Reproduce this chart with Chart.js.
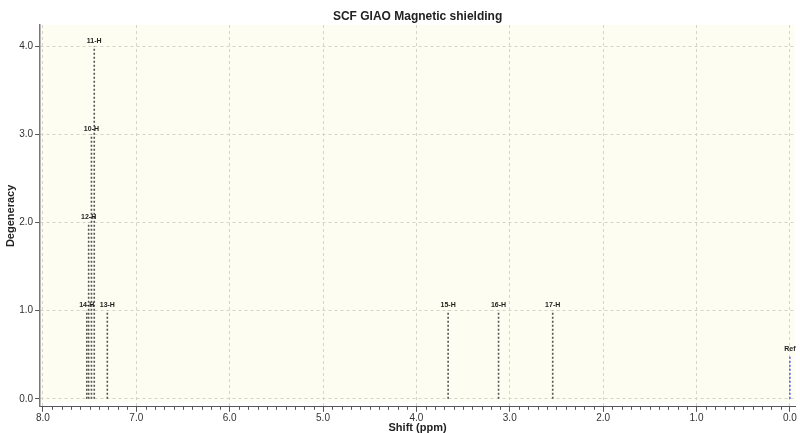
<!DOCTYPE html>
<html lang="en">
<head>
  <meta charset="UTF-8">
  <title>SCF GIAO Magnetic shielding</title>
  <script src="https://cdn.jsdelivr.net/npm/chart.js"></script>
  <style>
    body, html {
      margin: 0;
      padding: 0;
      background: #fff;
    }
    #wrap {
      width: 800px;
      height: 433px;
    }
  </style>
</head>
<body>
  <div id="wrap"><canvas id="grafico"></canvas></div>
  <script>
    // peaks (ppm) and their degeneracy
    const peakLabels = ["14-H", "12-H", "10-H", "11-H", "13-H", "15-H", "16-H", "17-H", "Ref"];
    const peakShifts = [7.53, 7.51, 7.48, 7.45, 7.31, 3.66, 3.12, 2.54, 0.0];
    const peakDegeneracy = [1, 2, 3, 4, 1, 1, 1, 1, 0.5];
    const xTicks = [0, 1, 2, 3, 4, 5, 6, 7, 8];
    const yTicks = [0, 1, 2, 3, 4];
    const chartTitle = "SCF GIAO Magnetic shielding";

    const font = "'Liberation Sans', Arial, sans-serif";

    const datasets = peakShifts.map((s, i) => ({
      label: peakLabels[i],
      data: [{ x: s, y: 0 }, { x: s, y: peakDegeneracy[i] }],
      borderColor: peakLabels[i] === "Ref" ? "#5a5af0" : "#555",
      borderWidth: 1.6,
      borderDash: [2, 2],
      pointRadius: 0,
      fill: false
    }));

    // pale plot background, stops a little above the x axis
    const fondo = {
      id: "fondo",
      beforeDraw(chart) {
        const { ctx, chartArea } = chart;
        const yb = chart.scales.y.getPixelForValue(-0.035);
        ctx.save();
        ctx.fillStyle = "#fdfdf1";
        ctx.fillRect(chartArea.left, chartArea.top, chartArea.right - chartArea.left, yb - chartArea.top);
        ctx.restore();
      }
    };

    // title over the plot area, peak labels, minor ticks on x axis
    const extras = {
      id: "extras",
      afterDraw(chart) {
        const { ctx, scales, chartArea } = chart;
        const x = scales.x, y = scales.y;
        ctx.save();
        ctx.font = "bold 12px " + font;
        ctx.fillStyle = "#222";
        ctx.textAlign = "center";
        ctx.textBaseline = "middle";
        ctx.fillText(chartTitle, (chartArea.left + chartArea.right) / 2, 17);

        ctx.font = "bold 7px " + font;
        ctx.textBaseline = "bottom";
        peakShifts.forEach((s, i) => {
          ctx.fillText(peakLabels[i], x.getPixelForValue(s), y.getPixelForValue(peakDegeneracy[i]) - 2);
        });
        ctx.strokeStyle = "#555";
        ctx.lineWidth = 1;
        const base = chartArea.bottom;
        for (let k = 1; k < 80; k++) {
          if (k % 10 === 0) continue;
          const px = Math.round(x.getPixelForValue(k / 10)) + 0.5;
          ctx.beginPath();
          ctx.moveTo(px, base);
          ctx.lineTo(px, base + 3);
          ctx.stroke();
        }
        ctx.restore();
      }
    };

    new Chart(document.getElementById("grafico"), {
      type: "line",
      data: { datasets },
      plugins: [fondo, extras],
      options: {
        responsive: true,
        maintainAspectRatio: false,
        animation: false,
        layout: { padding: { left: 4, right: 5, top: 25, bottom: 0 } },
        plugins: {
          legend: { display: false },
          tooltip: { enabled: false },
          title: { display: false }
        },
        scales: {
          x: {
            type: "linear",
            reverse: true,
            min: -0.055,
            max: 8.03,
            afterBuildTicks: ax => { ax.ticks = xTicks.map(v => ({ value: v })); },
            ticks: {
              callback: v => v.toFixed(1),
              color: "#333",
              font: { family: font, size: 10 },
              maxRotation: 0,
              padding: 0
            },
            grid: {
              color: "#d4d4cc",
              tickColor: "#555",
              tickLength: 5
            },
            border: { color: "#555", width: 1, dash: [3, 3] },
            title: {
              display: true,
              text: "Shift (ppm)",
              color: "#222",
              font: { family: font, size: 11, weight: "bold" },
              padding: { top: -2, bottom: -2 }
            }
          },
          y: {
            min: -0.091,
            max: 4.24,
            afterBuildTicks: ax => { ax.ticks = yTicks.map(v => ({ value: v })); },
            ticks: {
              callback: v => v.toFixed(1),
              color: "#333",
              font: { family: font, size: 10 },
              padding: 2
            },
            grid: {
              color: "#d4d4cc",
              tickColor: "#555",
              tickLength: 5
            },
            border: { color: "#777", width: 1.5, dash: [3, 3] },
            title: {
              display: true,
              text: "Degeneracy",
              color: "#222",
              font: { family: font, size: 11, weight: "bold" },
              padding: { top: 0, bottom: 0 }
            }
          }
        }
      }
    });
  </script>
</body>
</html>
